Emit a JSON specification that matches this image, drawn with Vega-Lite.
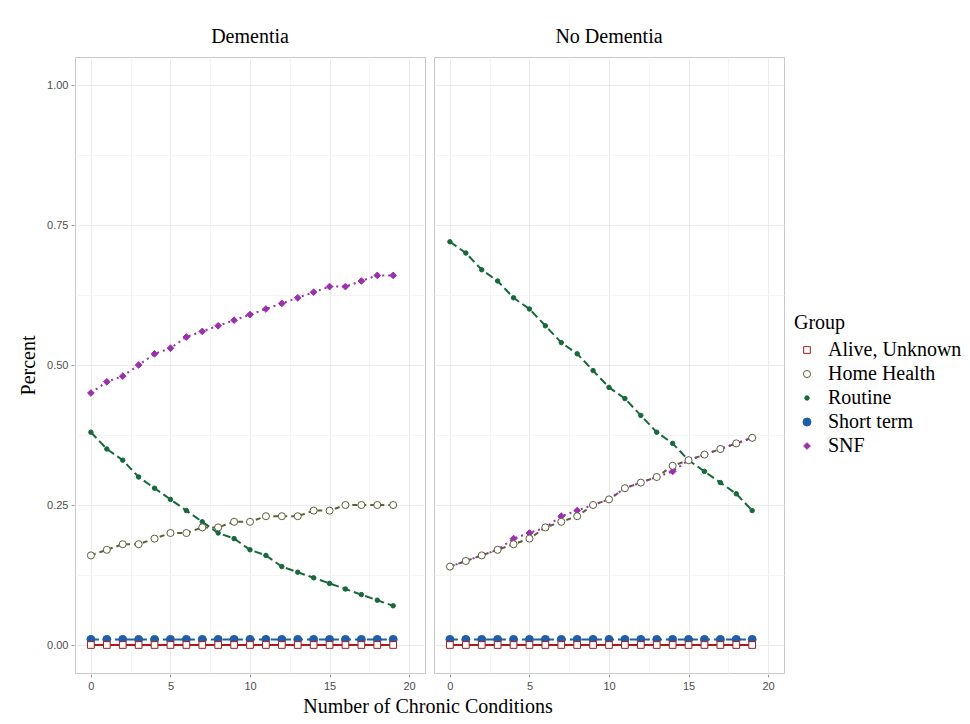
{
"$schema": "https://vega.github.io/schema/vega-lite/v6.json",
"background": "white",
"padding": {"left": 18, "top": 27, "right": 5, "bottom": 6},
"title": {"text": "Number of Chronic Conditions", "orient": "bottom", "anchor": "middle", "frame": "group", "dx": 353, "font": "Liberation Serif", "fontSize": 20, "fontWeight": "normal", "color": "black", "offset": 6},
"data": {"values": [
{"Panel":"Dementia","Group":"Short term","Conditions":0,"Percent":0.01},{"Panel":"Dementia","Group":"Short term","Conditions":1,"Percent":0.01},{"Panel":"Dementia","Group":"Short term","Conditions":2,"Percent":0.01},{"Panel":"Dementia","Group":"Short term","Conditions":3,"Percent":0.01},{"Panel":"Dementia","Group":"Short term","Conditions":4,"Percent":0.01},{"Panel":"Dementia","Group":"Short term","Conditions":5,"Percent":0.01},{"Panel":"Dementia","Group":"Short term","Conditions":6,"Percent":0.01},{"Panel":"Dementia","Group":"Short term","Conditions":7,"Percent":0.01},{"Panel":"Dementia","Group":"Short term","Conditions":8,"Percent":0.01},{"Panel":"Dementia","Group":"Short term","Conditions":9,"Percent":0.01},{"Panel":"Dementia","Group":"Short term","Conditions":10,"Percent":0.01},{"Panel":"Dementia","Group":"Short term","Conditions":11,"Percent":0.01},{"Panel":"Dementia","Group":"Short term","Conditions":12,"Percent":0.01},{"Panel":"Dementia","Group":"Short term","Conditions":13,"Percent":0.01},{"Panel":"Dementia","Group":"Short term","Conditions":14,"Percent":0.01},{"Panel":"Dementia","Group":"Short term","Conditions":15,"Percent":0.01},{"Panel":"Dementia","Group":"Short term","Conditions":16,"Percent":0.01},{"Panel":"Dementia","Group":"Short term","Conditions":17,"Percent":0.01},{"Panel":"Dementia","Group":"Short term","Conditions":18,"Percent":0.01},{"Panel":"Dementia","Group":"Short term","Conditions":19,"Percent":0.01},
{"Panel":"Dementia","Group":"SNF","Conditions":0,"Percent":0.45},{"Panel":"Dementia","Group":"SNF","Conditions":1,"Percent":0.47},{"Panel":"Dementia","Group":"SNF","Conditions":2,"Percent":0.48},{"Panel":"Dementia","Group":"SNF","Conditions":3,"Percent":0.50},{"Panel":"Dementia","Group":"SNF","Conditions":4,"Percent":0.52},{"Panel":"Dementia","Group":"SNF","Conditions":5,"Percent":0.53},{"Panel":"Dementia","Group":"SNF","Conditions":6,"Percent":0.55},{"Panel":"Dementia","Group":"SNF","Conditions":7,"Percent":0.56},{"Panel":"Dementia","Group":"SNF","Conditions":8,"Percent":0.57},{"Panel":"Dementia","Group":"SNF","Conditions":9,"Percent":0.58},{"Panel":"Dementia","Group":"SNF","Conditions":10,"Percent":0.59},{"Panel":"Dementia","Group":"SNF","Conditions":11,"Percent":0.60},{"Panel":"Dementia","Group":"SNF","Conditions":12,"Percent":0.61},{"Panel":"Dementia","Group":"SNF","Conditions":13,"Percent":0.62},{"Panel":"Dementia","Group":"SNF","Conditions":14,"Percent":0.63},{"Panel":"Dementia","Group":"SNF","Conditions":15,"Percent":0.64},{"Panel":"Dementia","Group":"SNF","Conditions":16,"Percent":0.64},{"Panel":"Dementia","Group":"SNF","Conditions":17,"Percent":0.65},{"Panel":"Dementia","Group":"SNF","Conditions":18,"Percent":0.66},{"Panel":"Dementia","Group":"SNF","Conditions":19,"Percent":0.66},
{"Panel":"Dementia","Group":"Routine","Conditions":0,"Percent":0.38},{"Panel":"Dementia","Group":"Routine","Conditions":1,"Percent":0.35},{"Panel":"Dementia","Group":"Routine","Conditions":2,"Percent":0.33},{"Panel":"Dementia","Group":"Routine","Conditions":3,"Percent":0.30},{"Panel":"Dementia","Group":"Routine","Conditions":4,"Percent":0.28},{"Panel":"Dementia","Group":"Routine","Conditions":5,"Percent":0.26},{"Panel":"Dementia","Group":"Routine","Conditions":6,"Percent":0.24},{"Panel":"Dementia","Group":"Routine","Conditions":7,"Percent":0.22},{"Panel":"Dementia","Group":"Routine","Conditions":8,"Percent":0.20},{"Panel":"Dementia","Group":"Routine","Conditions":9,"Percent":0.19},{"Panel":"Dementia","Group":"Routine","Conditions":10,"Percent":0.17},{"Panel":"Dementia","Group":"Routine","Conditions":11,"Percent":0.16},{"Panel":"Dementia","Group":"Routine","Conditions":12,"Percent":0.14},{"Panel":"Dementia","Group":"Routine","Conditions":13,"Percent":0.13},{"Panel":"Dementia","Group":"Routine","Conditions":14,"Percent":0.12},{"Panel":"Dementia","Group":"Routine","Conditions":15,"Percent":0.11},{"Panel":"Dementia","Group":"Routine","Conditions":16,"Percent":0.10},{"Panel":"Dementia","Group":"Routine","Conditions":17,"Percent":0.09},{"Panel":"Dementia","Group":"Routine","Conditions":18,"Percent":0.08},{"Panel":"Dementia","Group":"Routine","Conditions":19,"Percent":0.07},
{"Panel":"Dementia","Group":"Alive, Unknown","Conditions":0,"Percent":0},{"Panel":"Dementia","Group":"Alive, Unknown","Conditions":1,"Percent":0},{"Panel":"Dementia","Group":"Alive, Unknown","Conditions":2,"Percent":0},{"Panel":"Dementia","Group":"Alive, Unknown","Conditions":3,"Percent":0},{"Panel":"Dementia","Group":"Alive, Unknown","Conditions":4,"Percent":0},{"Panel":"Dementia","Group":"Alive, Unknown","Conditions":5,"Percent":0},{"Panel":"Dementia","Group":"Alive, Unknown","Conditions":6,"Percent":0},{"Panel":"Dementia","Group":"Alive, Unknown","Conditions":7,"Percent":0},{"Panel":"Dementia","Group":"Alive, Unknown","Conditions":8,"Percent":0},{"Panel":"Dementia","Group":"Alive, Unknown","Conditions":9,"Percent":0},{"Panel":"Dementia","Group":"Alive, Unknown","Conditions":10,"Percent":0},{"Panel":"Dementia","Group":"Alive, Unknown","Conditions":11,"Percent":0},{"Panel":"Dementia","Group":"Alive, Unknown","Conditions":12,"Percent":0},{"Panel":"Dementia","Group":"Alive, Unknown","Conditions":13,"Percent":0},{"Panel":"Dementia","Group":"Alive, Unknown","Conditions":14,"Percent":0},{"Panel":"Dementia","Group":"Alive, Unknown","Conditions":15,"Percent":0},{"Panel":"Dementia","Group":"Alive, Unknown","Conditions":16,"Percent":0},{"Panel":"Dementia","Group":"Alive, Unknown","Conditions":17,"Percent":0},{"Panel":"Dementia","Group":"Alive, Unknown","Conditions":18,"Percent":0},{"Panel":"Dementia","Group":"Alive, Unknown","Conditions":19,"Percent":0},
{"Panel":"Dementia","Group":"Home Health","Conditions":0,"Percent":0.16},{"Panel":"Dementia","Group":"Home Health","Conditions":1,"Percent":0.17},{"Panel":"Dementia","Group":"Home Health","Conditions":2,"Percent":0.18},{"Panel":"Dementia","Group":"Home Health","Conditions":3,"Percent":0.18},{"Panel":"Dementia","Group":"Home Health","Conditions":4,"Percent":0.19},{"Panel":"Dementia","Group":"Home Health","Conditions":5,"Percent":0.20},{"Panel":"Dementia","Group":"Home Health","Conditions":6,"Percent":0.20},{"Panel":"Dementia","Group":"Home Health","Conditions":7,"Percent":0.21},{"Panel":"Dementia","Group":"Home Health","Conditions":8,"Percent":0.21},{"Panel":"Dementia","Group":"Home Health","Conditions":9,"Percent":0.22},{"Panel":"Dementia","Group":"Home Health","Conditions":10,"Percent":0.22},{"Panel":"Dementia","Group":"Home Health","Conditions":11,"Percent":0.23},{"Panel":"Dementia","Group":"Home Health","Conditions":12,"Percent":0.23},{"Panel":"Dementia","Group":"Home Health","Conditions":13,"Percent":0.23},{"Panel":"Dementia","Group":"Home Health","Conditions":14,"Percent":0.24},{"Panel":"Dementia","Group":"Home Health","Conditions":15,"Percent":0.24},{"Panel":"Dementia","Group":"Home Health","Conditions":16,"Percent":0.25},{"Panel":"Dementia","Group":"Home Health","Conditions":17,"Percent":0.25},{"Panel":"Dementia","Group":"Home Health","Conditions":18,"Percent":0.25},{"Panel":"Dementia","Group":"Home Health","Conditions":19,"Percent":0.25},
{"Panel":"No Dementia","Group":"Short term","Conditions":0,"Percent":0.01},{"Panel":"No Dementia","Group":"Short term","Conditions":1,"Percent":0.01},{"Panel":"No Dementia","Group":"Short term","Conditions":2,"Percent":0.01},{"Panel":"No Dementia","Group":"Short term","Conditions":3,"Percent":0.01},{"Panel":"No Dementia","Group":"Short term","Conditions":4,"Percent":0.01},{"Panel":"No Dementia","Group":"Short term","Conditions":5,"Percent":0.01},{"Panel":"No Dementia","Group":"Short term","Conditions":6,"Percent":0.01},{"Panel":"No Dementia","Group":"Short term","Conditions":7,"Percent":0.01},{"Panel":"No Dementia","Group":"Short term","Conditions":8,"Percent":0.01},{"Panel":"No Dementia","Group":"Short term","Conditions":9,"Percent":0.01},{"Panel":"No Dementia","Group":"Short term","Conditions":10,"Percent":0.01},{"Panel":"No Dementia","Group":"Short term","Conditions":11,"Percent":0.01},{"Panel":"No Dementia","Group":"Short term","Conditions":12,"Percent":0.01},{"Panel":"No Dementia","Group":"Short term","Conditions":13,"Percent":0.01},{"Panel":"No Dementia","Group":"Short term","Conditions":14,"Percent":0.01},{"Panel":"No Dementia","Group":"Short term","Conditions":15,"Percent":0.01},{"Panel":"No Dementia","Group":"Short term","Conditions":16,"Percent":0.01},{"Panel":"No Dementia","Group":"Short term","Conditions":17,"Percent":0.01},{"Panel":"No Dementia","Group":"Short term","Conditions":18,"Percent":0.01},{"Panel":"No Dementia","Group":"Short term","Conditions":19,"Percent":0.01},
{"Panel":"No Dementia","Group":"SNF","Conditions":0,"Percent":0.14},{"Panel":"No Dementia","Group":"SNF","Conditions":1,"Percent":0.15},{"Panel":"No Dementia","Group":"SNF","Conditions":2,"Percent":0.16},{"Panel":"No Dementia","Group":"SNF","Conditions":3,"Percent":0.17},{"Panel":"No Dementia","Group":"SNF","Conditions":4,"Percent":0.19},{"Panel":"No Dementia","Group":"SNF","Conditions":5,"Percent":0.20},{"Panel":"No Dementia","Group":"SNF","Conditions":6,"Percent":0.21},{"Panel":"No Dementia","Group":"SNF","Conditions":7,"Percent":0.23},{"Panel":"No Dementia","Group":"SNF","Conditions":8,"Percent":0.24},{"Panel":"No Dementia","Group":"SNF","Conditions":9,"Percent":0.25},{"Panel":"No Dementia","Group":"SNF","Conditions":10,"Percent":0.26},{"Panel":"No Dementia","Group":"SNF","Conditions":11,"Percent":0.28},{"Panel":"No Dementia","Group":"SNF","Conditions":12,"Percent":0.29},{"Panel":"No Dementia","Group":"SNF","Conditions":13,"Percent":0.30},{"Panel":"No Dementia","Group":"SNF","Conditions":14,"Percent":0.31},{"Panel":"No Dementia","Group":"SNF","Conditions":15,"Percent":0.33},{"Panel":"No Dementia","Group":"SNF","Conditions":16,"Percent":0.34},{"Panel":"No Dementia","Group":"SNF","Conditions":17,"Percent":0.35},{"Panel":"No Dementia","Group":"SNF","Conditions":18,"Percent":0.36},{"Panel":"No Dementia","Group":"SNF","Conditions":19,"Percent":0.37},
{"Panel":"No Dementia","Group":"Routine","Conditions":0,"Percent":0.72},{"Panel":"No Dementia","Group":"Routine","Conditions":1,"Percent":0.70},{"Panel":"No Dementia","Group":"Routine","Conditions":2,"Percent":0.67},{"Panel":"No Dementia","Group":"Routine","Conditions":3,"Percent":0.65},{"Panel":"No Dementia","Group":"Routine","Conditions":4,"Percent":0.62},{"Panel":"No Dementia","Group":"Routine","Conditions":5,"Percent":0.60},{"Panel":"No Dementia","Group":"Routine","Conditions":6,"Percent":0.57},{"Panel":"No Dementia","Group":"Routine","Conditions":7,"Percent":0.54},{"Panel":"No Dementia","Group":"Routine","Conditions":8,"Percent":0.52},{"Panel":"No Dementia","Group":"Routine","Conditions":9,"Percent":0.49},{"Panel":"No Dementia","Group":"Routine","Conditions":10,"Percent":0.46},{"Panel":"No Dementia","Group":"Routine","Conditions":11,"Percent":0.44},{"Panel":"No Dementia","Group":"Routine","Conditions":12,"Percent":0.41},{"Panel":"No Dementia","Group":"Routine","Conditions":13,"Percent":0.38},{"Panel":"No Dementia","Group":"Routine","Conditions":14,"Percent":0.36},{"Panel":"No Dementia","Group":"Routine","Conditions":15,"Percent":0.33},{"Panel":"No Dementia","Group":"Routine","Conditions":16,"Percent":0.31},{"Panel":"No Dementia","Group":"Routine","Conditions":17,"Percent":0.29},{"Panel":"No Dementia","Group":"Routine","Conditions":18,"Percent":0.27},{"Panel":"No Dementia","Group":"Routine","Conditions":19,"Percent":0.24},
{"Panel":"No Dementia","Group":"Alive, Unknown","Conditions":0,"Percent":0},{"Panel":"No Dementia","Group":"Alive, Unknown","Conditions":1,"Percent":0},{"Panel":"No Dementia","Group":"Alive, Unknown","Conditions":2,"Percent":0},{"Panel":"No Dementia","Group":"Alive, Unknown","Conditions":3,"Percent":0},{"Panel":"No Dementia","Group":"Alive, Unknown","Conditions":4,"Percent":0},{"Panel":"No Dementia","Group":"Alive, Unknown","Conditions":5,"Percent":0},{"Panel":"No Dementia","Group":"Alive, Unknown","Conditions":6,"Percent":0},{"Panel":"No Dementia","Group":"Alive, Unknown","Conditions":7,"Percent":0},{"Panel":"No Dementia","Group":"Alive, Unknown","Conditions":8,"Percent":0},{"Panel":"No Dementia","Group":"Alive, Unknown","Conditions":9,"Percent":0},{"Panel":"No Dementia","Group":"Alive, Unknown","Conditions":10,"Percent":0},{"Panel":"No Dementia","Group":"Alive, Unknown","Conditions":11,"Percent":0},{"Panel":"No Dementia","Group":"Alive, Unknown","Conditions":12,"Percent":0},{"Panel":"No Dementia","Group":"Alive, Unknown","Conditions":13,"Percent":0},{"Panel":"No Dementia","Group":"Alive, Unknown","Conditions":14,"Percent":0},{"Panel":"No Dementia","Group":"Alive, Unknown","Conditions":15,"Percent":0},{"Panel":"No Dementia","Group":"Alive, Unknown","Conditions":16,"Percent":0},{"Panel":"No Dementia","Group":"Alive, Unknown","Conditions":17,"Percent":0},{"Panel":"No Dementia","Group":"Alive, Unknown","Conditions":18,"Percent":0},{"Panel":"No Dementia","Group":"Alive, Unknown","Conditions":19,"Percent":0},
{"Panel":"No Dementia","Group":"Home Health","Conditions":0,"Percent":0.14},{"Panel":"No Dementia","Group":"Home Health","Conditions":1,"Percent":0.15},{"Panel":"No Dementia","Group":"Home Health","Conditions":2,"Percent":0.16},{"Panel":"No Dementia","Group":"Home Health","Conditions":3,"Percent":0.17},{"Panel":"No Dementia","Group":"Home Health","Conditions":4,"Percent":0.18},{"Panel":"No Dementia","Group":"Home Health","Conditions":5,"Percent":0.19},{"Panel":"No Dementia","Group":"Home Health","Conditions":6,"Percent":0.21},{"Panel":"No Dementia","Group":"Home Health","Conditions":7,"Percent":0.22},{"Panel":"No Dementia","Group":"Home Health","Conditions":8,"Percent":0.23},{"Panel":"No Dementia","Group":"Home Health","Conditions":9,"Percent":0.25},{"Panel":"No Dementia","Group":"Home Health","Conditions":10,"Percent":0.26},{"Panel":"No Dementia","Group":"Home Health","Conditions":11,"Percent":0.28},{"Panel":"No Dementia","Group":"Home Health","Conditions":12,"Percent":0.29},{"Panel":"No Dementia","Group":"Home Health","Conditions":13,"Percent":0.30},{"Panel":"No Dementia","Group":"Home Health","Conditions":14,"Percent":0.32},{"Panel":"No Dementia","Group":"Home Health","Conditions":15,"Percent":0.33},{"Panel":"No Dementia","Group":"Home Health","Conditions":16,"Percent":0.34},{"Panel":"No Dementia","Group":"Home Health","Conditions":17,"Percent":0.35},{"Panel":"No Dementia","Group":"Home Health","Conditions":18,"Percent":0.36},{"Panel":"No Dementia","Group":"Home Health","Conditions":19,"Percent":0.37}
]},
"facet": {"column": {"field": "Panel", "type": "nominal", "header": {"title": null, "labelFont": "Liberation Serif", "labelFontSize": 20, "labelColor": "black", "labelPadding": 9}}},
"spacing": 7,
"spec": {
  "width": 350,
  "height": 616,
  "encoding": {
    "x": {"field": "Conditions", "type": "quantitative", "scale": {"domain": [-1, 21], "nice": false, "zero": false},
      "axis": {"title": null, "values": [0, 2.5, 5, 7.5, 10, 12.5, 15, 17.5, 20], "labelExpr": "datum.value % 5 == 0 ? format(datum.value, 'd') : ''",
        "tickOpacity": {"condition": {"test": "datum.value % 5 == 0", "value": 1}, "value": 0},
        "gridColor": {"condition": {"test": "datum.value % 5 == 0", "value": "#ebebeb"}, "value": "#f5f5f5"}}},
    "y": {"field": "Percent", "type": "quantitative", "scale": {"domain": [-0.05, 1.05], "nice": false, "zero": false},
      "axis": {"title": "Percent", "values": [0, 0.125, 0.25, 0.375, 0.5, 0.625, 0.75, 0.875, 1], "labelExpr": "(datum.value * 4) % 1 == 0 ? format(datum.value, '.2f') : ''",
        "tickOpacity": {"condition": {"test": "(datum.value * 4) % 1 == 0", "value": 1}, "value": 0},
        "gridColor": {"condition": {"test": "(datum.value * 4) % 1 == 0", "value": "#ebebeb"}, "value": "#f5f5f5"}}},
    "stroke": {"field": "Group", "type": "nominal", "title": "Group",
      "scale": {"domain": ["Alive, Unknown", "Home Health", "Routine", "Short term", "SNF"], "range": ["#a51d1d", "#5e5e3c", "#17693a", "#1f5ea8", "#9b2fae"]},
      "legend": {"orient": "none", "legendX": 719, "legendY": 256, "symbolOffset": 3, "labelOffset": 11}}
  },
  "layer": [
    {"transform": [{"filter": {"field": "Group", "equal": "Alive, Unknown"}}],
     "mark": {"type": "line", "strokeWidth": 2}},
    {"transform": [{"filter": {"field": "Group", "equal": "Home Health"}}],
     "mark": {"type": "line", "strokeWidth": 2, "strokeDash": [5, 4]}},
    {"transform": [{"filter": {"field": "Group", "oneOf": ["Routine", "Short term"]}}],
     "mark": {"type": "line", "strokeWidth": 2, "strokeDash": [8, 4]}},
    {"transform": [{"filter": {"field": "Group", "equal": "SNF"}}],
     "mark": {"type": "line", "strokeWidth": 2, "strokeDash": [2, 4]}},
    {"mark": {"type": "point", "filled": true, "opacity": 1, "strokeWidth": 1},
     "encoding": {
       "fill": {"field": "Group", "type": "nominal", "title": "Group", "scale": {"domain": ["Alive, Unknown", "Home Health", "Routine", "Short term", "SNF"], "range": ["white", "white", "#17693a", "#1f5ea8", "#9b2fae"]}},
       "shape": {"field": "Group", "type": "nominal", "title": "Group", "scale": {"domain": ["Alive, Unknown", "Home Health", "Routine", "Short term", "SNF"], "range": ["square", "circle", "circle", "circle", "diamond"]}},
       "size": {"field": "Group", "type": "nominal", "title": "Group", "scale": {"type": "ordinal", "domain": ["Alive, Unknown", "Home Health", "Routine", "Short term", "SNF"], "range": [45, 50, 20, 64, 45]}}
     }}
  ]
},
"config": {
  "font": "Liberation Sans",
  "view": {"stroke": "#c8c8c8", "strokeWidth": 1},
  "axis": {"domain": false, "labelFont": "Liberation Sans", "labelFontSize": 11, "labelColor": "#4d4d4d", "tickColor": "#9a9a9a", "tickSize": 3, "labelPadding": 3, "gridWidth": 1, "titleFont": "Liberation Serif", "titleFontSize": 20, "titleFontWeight": "normal", "titleColor": "black", "titlePadding": 8},
  "legend": {"titleFont": "Liberation Serif", "titleFontSize": 20, "titleFontWeight": "normal", "titleColor": "black", "labelFont": "Liberation Serif", "labelFontSize": 20, "labelColor": "black", "rowPadding": 4, "titlePadding": 7, "symbolStrokeWidth": 1, "padding": 0}
}
}
